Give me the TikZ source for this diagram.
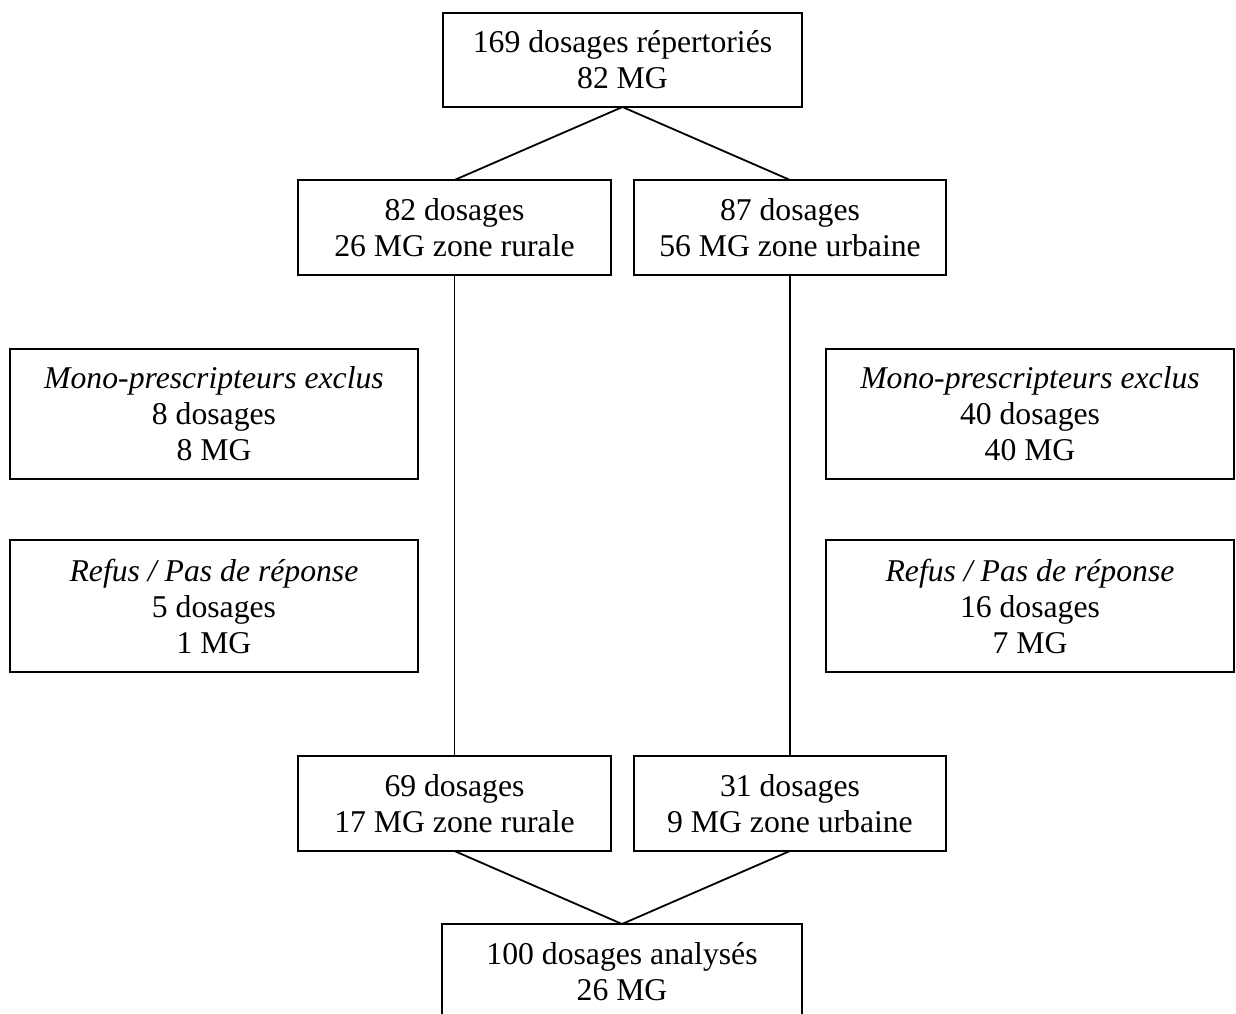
\documentclass[tikz,border=0pt]{standalone}
\usepackage{fontspec}
\setmainfont{Liberation Serif}
\begin{document}
\begin{tikzpicture}[x=1pt,y=-1pt,
  box/.style={draw=black,line width=2pt,inner sep=0pt,outer sep=0pt,align=center,
    font=\fontsize{31.7}{36}\selectfont},
  conn/.style={draw=black,line width=1.8pt}]
\useasboundingbox (0,0) rectangle (1236,1013);
\clip (0,0) rectangle (1236,1013);
\node[box,minimum width=359pt,minimum height=94pt] (top) at (622.5,60) {169 dosages répertoriés\\82 MG};
\node[box,minimum width=313pt,minimum height=95pt] (l2) at (454.5,227.5) {82 dosages\\26 MG zone rurale};
\node[box,minimum width=312pt,minimum height=95pt] (r2) at (790,227.5) {87 dosages\\56 MG zone urbaine};
\node[box,minimum width=408pt,minimum height=130pt] (ml) at (214,414) {\textit{Mono-prescripteurs exclus}\\8 dosages\\8 MG};
\node[box,minimum width=408pt,minimum height=130pt] (mr) at (1030,414) {\textit{Mono-prescripteurs exclus}\\40 dosages\\40 MG};
\node[box,minimum width=408pt,minimum height=132pt] (rl) at (214,606) {\textit{Refus / Pas de réponse}\\5 dosages\\1 MG};
\node[box,minimum width=408pt,minimum height=132pt] (rr) at (1030,606) {\textit{Refus / Pas de réponse}\\16 dosages\\7 MG};
\node[box,minimum width=313pt,minimum height=95pt] (l5) at (454.5,803.5) {69 dosages\\17 MG zone rurale};
\node[box,minimum width=312pt,minimum height=95pt] (r5) at (790,803.5) {31 dosages\\9 MG zone urbaine};
\node[box,minimum width=360pt,minimum height=95pt] (bot) at (622,971.5) {100 dosages analysés\\26 MG};
\draw[conn] (top.south) -- (l2.north);
\draw[conn] (top.south) -- (r2.north);
\draw[conn] (l2.south) -- (l5.north);
\draw[conn] (r2.south) -- (r5.north);
\draw[conn] (l5.south) -- (bot.north);
\draw[conn] (r5.south) -- (bot.north);
\end{tikzpicture}
\end{document}
